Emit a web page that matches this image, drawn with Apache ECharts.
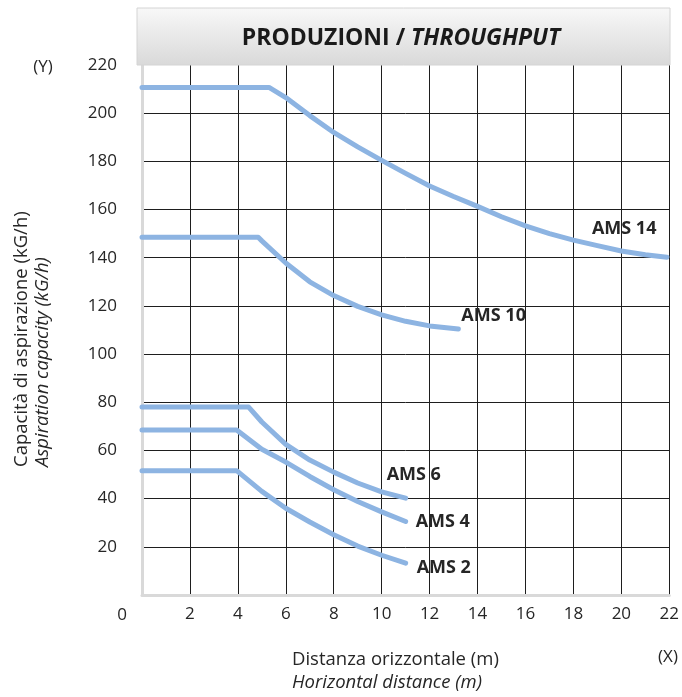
<!DOCTYPE html>
<html>
<head>
<meta charset="utf-8">
<script src="https://cdn.jsdelivr.net/npm/echarts@6/dist/echarts.min.js"></script>
<style>
html,body{margin:0;padding:0;background:#fff;}
#chart{width:682px;height:697px;}
</style>
</head>
<body>
<div id="chart"></div>
<script>
// ---- data (x = horizontal distance m, y = aspiration capacity kG/h) ----
const seriesNames = ['AMS 14', 'AMS 10', 'AMS 6', 'AMS 4', 'AMS 2'];
const ams14 = [[0,210.7],[5.3,210.7],[6,206.5],[7,199],[8,192],[9,186],[10,180.4],[11,175],[12,169.8],[13,165.4],[14,161.3],[15,157],[16,153.2],[17,150],[18,147.3],[19,145],[20,142.8],[21,141.2],[21.9,140.2]];
const ams10 = [[0,148.5],[4.85,148.5],[5,147],[6,137.8],[7,130],[8,124.3],[9,119.8],[10,116.3],[11,113.6],[12,111.7],[13,110.6],[13.2,110.4]];
const ams6  = [[0,78],[4.45,78],[5,71.8],[6,62.5],[7,56],[8,51],[9,46.5],[10,42.8],[11,40.2]];
const ams4  = [[0,68.5],[3.95,68.5],[5,60.5],[6,55.2],[7,49.2],[8,43.7],[9,38.8],[10,34.5],[11,30.5]];
const ams2  = [[0,51.6],[3.95,51.6],[5,43],[6,36],[7,30.3],[8,25],[9,20.3],[10,16.5],[11,13.2]];
const seriesData = [ams14, ams10, ams6, ams4, ams2];
const xRange = [0, 22, 2];
const yRange = [0, 220, 20];
const titleMain = 'PRODUZIONI / ';
const titleItalic = 'THROUGHPUT';
const xName = ['Distanza orizzontale (m)', 'Horizontal distance (m)'];
const yName = ['Capacità di aspirazione (kG/h)', 'Aspiration capacity (kG/h)'];

// ---- presentation ----
const FONT = '"Open Sans", "Noto Sans", sans-serif';
const TXT = '#262626';
const LINE = '#8db4e2';
const labelOffsets = [[-75,-28],[3,-13],[-19,-23],[10,0],[11,5]];

const chart = echarts.init(document.getElementById('chart'), null, {renderer:'canvas'});

const series = seriesData.map((d, i) => ({
  name: seriesNames[i],
  type: 'line',
  data: d,
  symbol: 'none',
  showSymbol: false,
  smooth: false,
  z: 5,
  lineStyle: {color: LINE, width: 5, cap: 'round', join: 'round'},
  itemStyle: {color: LINE},
  endLabel: {
    show: true,
    formatter: '{a}',
    distance: 0,
    offset: labelOffsets[i],
    fontFamily: FONT,
    fontWeight: 'bold',
    fontSize: 18,
    color: TXT
  }
}));

const option = {
  animation: false,
  backgroundColor: '#fff',
  grid: {left: 142, right: 12, top: 65, bottom: 102, containLabel: false},
  xAxis: {
    type: 'value', min: xRange[0], max: xRange[1], interval: xRange[2],
    axisLine: {show: true, onZero: false, lineStyle: {color: '#d9d9d9', width: 3}},
    axisTick: {show: false},
    axisLabel: {margin: 11, fontSize: 17, color: TXT, fontFamily: FONT, showMinLabel: false},
    splitLine: {show: true, showMinLine: false, lineStyle: {color: '#1e1e1e', width: 1}}
  },
  yAxis: {
    type: 'value', min: yRange[0], max: yRange[1], interval: yRange[2],
    axisLine: {show: true, onZero: false, lineStyle: {color: '#d9d9d9', width: 3}},
    axisTick: {show: false},
    axisLabel: {margin: 25, fontSize: 17, color: TXT, fontFamily: FONT, showMinLabel: false},
    splitLine: {show: true, showMinLine: false, showMaxLine: false, lineStyle: {color: '#1e1e1e', width: 1}}
  },
  series: series,
  graphic: [
    {type: 'rect', z: 50, shape: {x: 137, y: 8, width: 533, height: 57},
     style: {fill: new echarts.graphic.LinearGradient(0,0,0,1,[{offset:0,color:'#f8f8f8'},{offset:1,color:'#d9d9d9'}]), stroke: '#d4d4d4', lineWidth: 1}},
    {type: 'text', z: 51, x: 401, y: 38,
     style: {text: '{a|' + titleMain + '}{b|' + titleItalic + '}', align: 'center', verticalAlign: 'middle',
       rich: {a: {font: 'bold 23px ' + FONT, fill: '#1a1a1a'}, b: {font: 'italic bold 23px ' + FONT, fill: '#1a1a1a'}}}},
    {type: 'text', z: 51, x: 43, y: 67, style: {text: '(Y)', font: '17px ' + FONT, fill: TXT, align: 'center', verticalAlign: 'middle'}},
    {type: 'text', z: 51, x: 668, y: 657, style: {text: '(X)', font: '17px ' + FONT, fill: TXT, align: 'center', verticalAlign: 'middle'}},
    {type: 'text', z: 51, x: 122, y: 615, style: {text: '0', font: '17px ' + FONT, fill: TXT, align: 'center', verticalAlign: 'middle'}},
    {type: 'text', z: 51, x: 292, y: 660, style: {text: xName[0], font: '18.5px ' + FONT, fill: TXT, align: 'left', verticalAlign: 'middle'}},
    {type: 'text', z: 51, x: 292, y: 683, style: {text: xName[1], font: 'italic 18.5px ' + FONT, fill: TXT, align: 'left', verticalAlign: 'middle'}},
    {type: 'text', z: 51, x: 22, y: 467, rotation: Math.PI/2, style: {text: yName[0], font: '18.5px ' + FONT, fill: TXT, align: 'left', verticalAlign: 'middle'}},
    {type: 'text', z: 51, x: 43, y: 467, rotation: Math.PI/2, style: {text: yName[1], font: 'italic 18.5px ' + FONT, fill: TXT, align: 'left', verticalAlign: 'middle'}}
  ]
};
chart.setOption(option);
</script>
</body>
</html>
